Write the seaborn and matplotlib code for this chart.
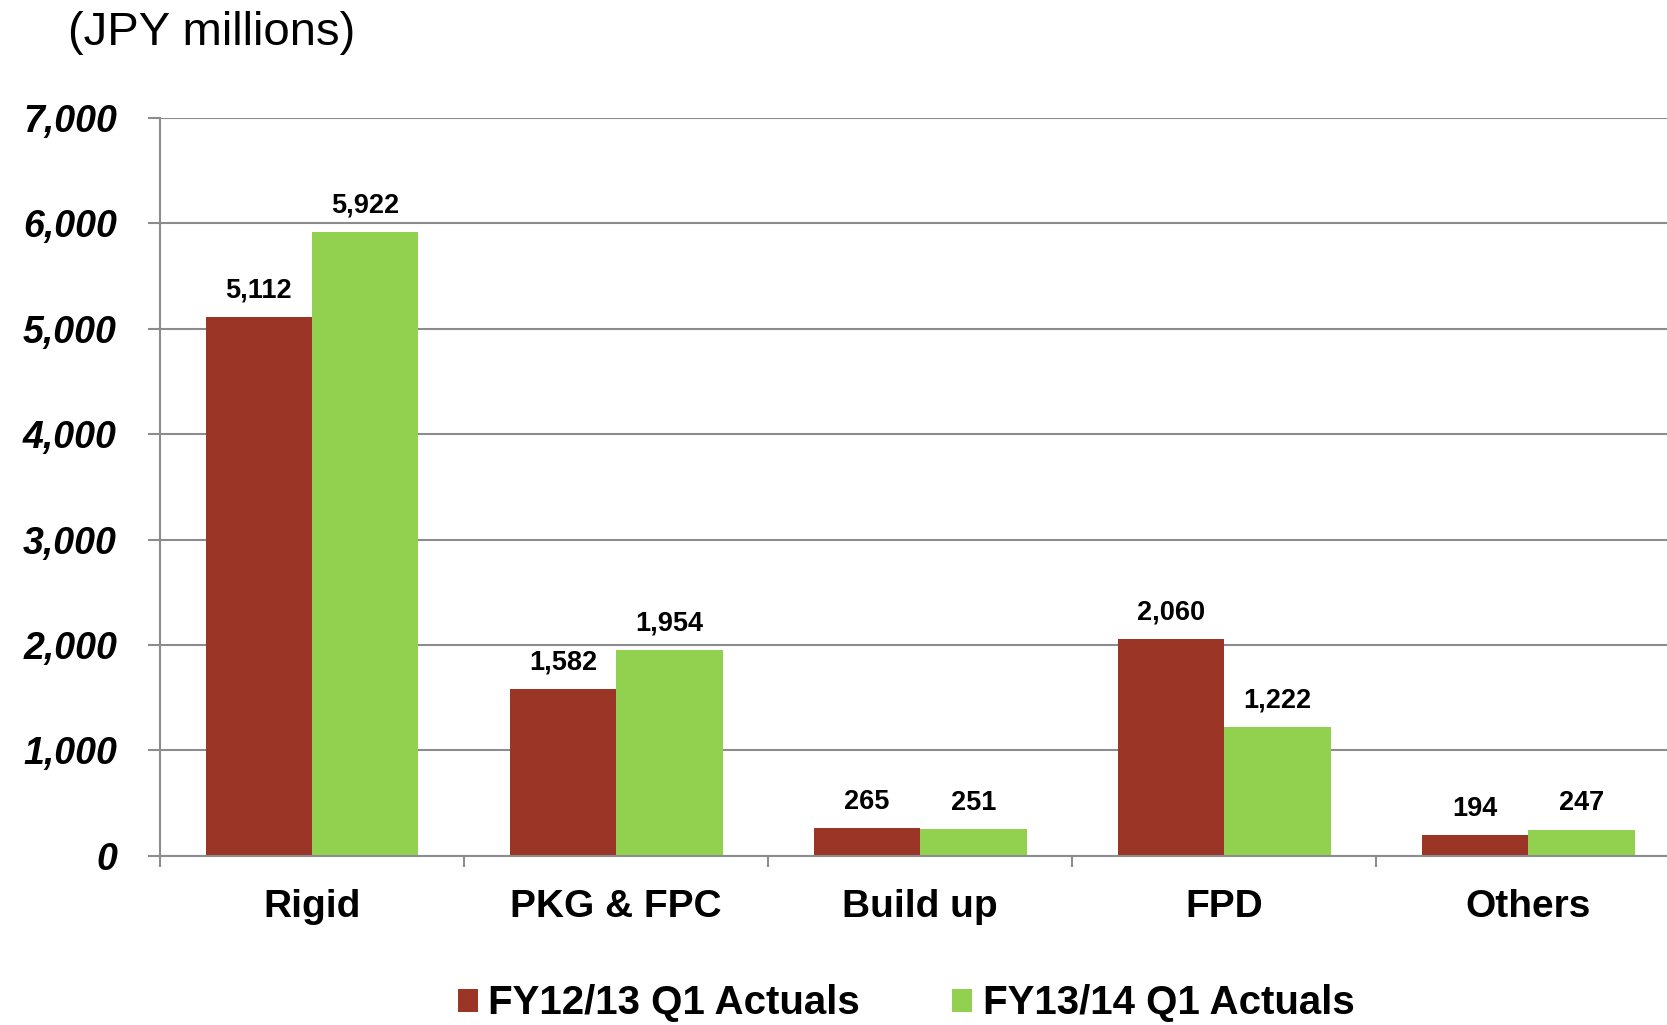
import pandas as pd
import numpy as np
import matplotlib
matplotlib.use("Agg")
import matplotlib.pyplot as plt
from matplotlib.ticker import FixedLocator, FuncFormatter
import seaborn as sns

# Datos del gráfico
segmentos = ["Rigid", "PKG & FPC", "Build up", "FPD", "Others"]
periodos = ["FY12/13 Q1 Actuals", "FY13/14 Q1 Actuals"]
fy12_q1 = [5112, 1582, 265, 2060, 194]
fy13_q1 = [5922, 1954, 251, 1222, 247]
colores = ["#9B3525", "#92D050"]
yticks = [0, 1000, 2000, 3000, 4000, 5000, 6000, 7000]

df = pd.DataFrame({
    "segmento": segmentos * 2,
    "valor": fy12_q1 + fy13_q1,
    "periodo": [periodos[0]] * len(segmentos) + [periodos[1]] * len(segmentos),
})

plt.rcParams["font.family"] = ["Liberation Sans", "DejaVu Sans"]

fig = plt.figure(figsize=(16.67, 10.25), dpi=100)
# el área del gráfico sobrepasa un poco el borde derecho, como en el original
ax = fig.add_axes([0.096, 0.165, 0.912, 0.72])

sns.barplot(data=df, x="segmento", y="valor", hue="periodo", order=segmentos,
            hue_order=periodos, palette=colores, saturation=1, width=0.7,
            linewidth=0, ax=ax)

# Etiquetas de valores
for cont in ax.containers:
    for barra in cont:
        h = barra.get_height()
        ax.annotate(f"{h:,.0f}", (barra.get_x() + barra.get_width() / 2, h),
                    xytext=(0, 19), textcoords="offset points",
                    ha="center", va="center", fontsize=19.5, fontweight="bold")

# Ejes
ax.set_ylim(0, 7000)
ax.set_xlim(-0.5, len(segmentos) - 0.5)
ax.set_yticks(yticks)
ax.yaxis.set_major_formatter(FuncFormatter(lambda v, p: f"{v:,.0f}"))
for lab in ax.get_yticklabels():
    lab.set_fontsize(27)
    lab.set_fontweight("bold")
    lab.set_fontstyle("italic")
ax.tick_params(axis="y", length=9, width=1.5, color="#8c8c8c", pad=22)
ax.grid(axis="y", color="#8c8c8c", linewidth=1.5)
ax.set_axisbelow(True)

ax.set_xticks(range(len(segmentos)))
ax.set_xticklabels(segmentos, fontsize=28, fontweight="bold")
ax.xaxis.set_minor_locator(FixedLocator(np.arange(-0.5, len(segmentos), 1.0)))
ax.tick_params(axis="x", which="major", length=0, pad=24)
ax.tick_params(axis="x", which="minor", length=8, width=1.5, color="#8c8c8c")

ax.set_xlabel("")
ax.set_ylabel("")
for lado in ["top", "right"]:
    ax.spines[lado].set_visible(False)
for lado in ["left", "bottom"]:
    ax.spines[lado].set_color("#8c8c8c")
    ax.spines[lado].set_linewidth(1.5)

fig.text(0.041, 0.968, "(JPY millions)", fontsize=34, ha="left", va="center")

# Leyenda
handles, labels = ax.get_legend_handles_labels()
ax.get_legend().remove()
fig.legend(handles, labels, loc="center", bbox_to_anchor=(0.5435, 0.021), ncol=2,
           frameon=False, prop={"size": 29, "weight": "bold"},
           handlelength=0.5, handleheight=0.5, handletextpad=0.25,
           columnspacing=2.3, borderaxespad=0)

fig.savefig("out.png", dpi=100)
